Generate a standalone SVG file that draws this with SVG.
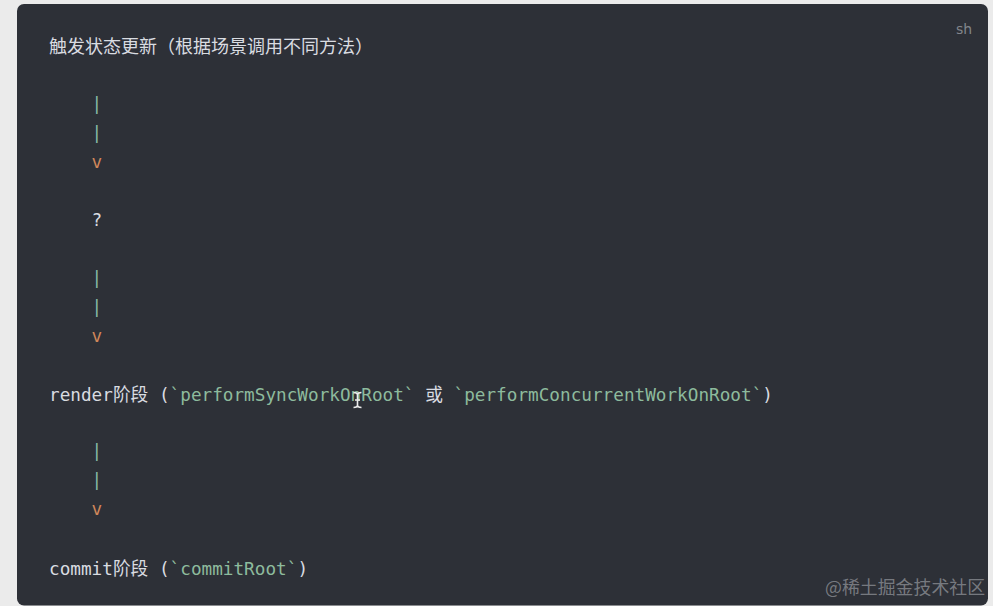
<svg xmlns="http://www.w3.org/2000/svg" width="993" height="606" viewBox="0 0 993 606">
  <style>
    .code { font-family: "DejaVu Sans Mono", "Noto Sans CJK SC", monospace; font-size: 17.7px; fill: #d9dce1; white-space: pre; }
    .cjk { font-family: "Noto Sans CJK SC", "DejaVu Sans", sans-serif; font-size: 18px; fill: #d9dce1; }
    .str { fill: #8dbb9d; }
    .pipe { fill: #86bba6; }
    .arrow { fill: #cf865a; }
    .lang { font-family: "DejaVu Sans", "Noto Sans", sans-serif; font-size: 14px; fill: #82858b; }
    .wm { font-family: "Noto Sans CJK SC", sans-serif; font-size: 17.9px; fill: #8b8e94; fill-opacity: 0.8; }
  </style>
  <rect x="0" y="0" width="993" height="606" fill="#ebebeb"/>
  <rect x="17" y="4" width="971" height="601.5" rx="7" ry="7" fill="#2d3037"/>
  <text class="lang" x="956" y="34">sh</text>

  <g id="node-trigger">
    <text class="cjk" x="49" y="52.5">触发状态更新（根据场景调用不同方法）</text>
  </g>

  <g id="connectors">
    <text class="code pipe" x="49" y="110.3">    |</text>
    <text class="code pipe" x="49" y="139.2">    |</text>
    <text class="code arrow" x="49" y="168.1">    v</text>
    <text class="code pipe" x="49" y="283.7">    |</text>
    <text class="code pipe" x="49" y="312.6">    |</text>
    <text class="code arrow" x="49" y="341.5">    v</text>
    <text class="code pipe" x="49" y="457.1">    |</text>
    <text class="code pipe" x="49" y="486.0">    |</text>
    <text class="code arrow" x="49" y="514.9">    v</text>
  </g>

  <g id="node-unknown">
    <text class="code" x="49" y="225.9">    ?</text>
  </g>

  <g id="node-render">
    <text class="code" x="49" y="400.5">render阶段 (<tspan class="str">`performSyncWorkOnRoot`</tspan> 或 <tspan class="str">`performConcurrentWorkOnRoot`</tspan>)</text>
  </g>

  <g id="node-commit">
    <text class="code" x="49" y="574.7">commit阶段 (<tspan class="str">`commitRoot`</tspan>)</text>
  </g>

  <g id="cursor" fill="none" stroke="#ececec" stroke-width="1.6">
    <path d="M353.5 392.5 q4 0 4 2.5 q0 -2.5 4 -2.5 M357.5 395 v10 M353.5 407.5 q4 0 4 -2.5 q0 2.5 4 2.5 M355 400 h5"/>
  </g>

  <text class="wm" x="825" y="594">@稀土掘金技术社区</text>
</svg>
